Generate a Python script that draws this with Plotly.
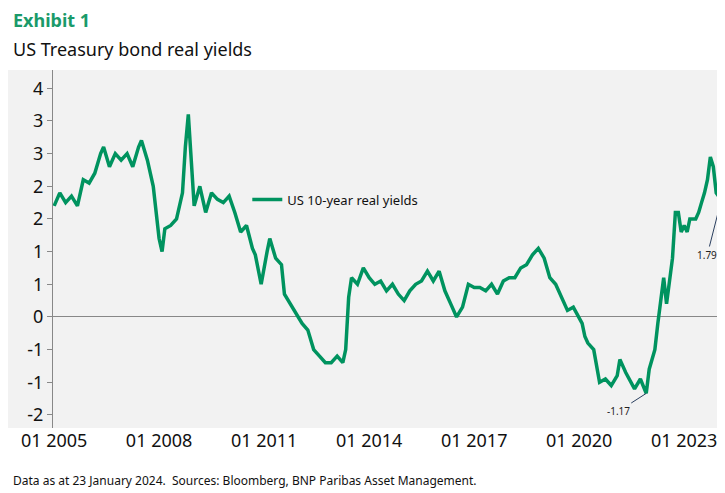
import plotly.graph_objects as go

dates = ["2005-01","2005-03","2005-05","2005-07","2005-09","2005-11","2006-01","2006-03","2006-05","2006-06","2006-08","2006-10","2006-12",
"2007-02","2007-04","2007-06","2007-07","2007-09","2007-11","2008-01","2008-02","2008-03","2008-05","2008-07","2008-09","2008-10","2008-11","2008-12",
"2009-01","2009-03","2009-05","2009-07","2009-09","2009-11","2010-01","2010-03","2010-05","2010-07","2010-09","2010-10","2010-12",
"2011-02","2011-03","2011-05","2011-07","2011-08","2011-10","2011-12","2012-02","2012-04","2012-06","2012-08","2012-10","2012-12",
"2013-02","2013-04","2013-05","2013-06","2013-07","2013-09","2013-11","2014-01","2014-03","2014-05","2014-07","2014-09","2014-11",
"2015-01","2015-03","2015-05","2015-07","2015-09","2015-11","2016-01","2016-03","2016-05","2016-07","2016-09","2016-11","2017-01",
"2017-03","2017-05","2017-07","2017-09","2017-11","2018-01","2018-03","2018-05","2018-07","2018-09","2018-11","2019-01","2019-03",
"2019-05","2019-07","2019-09","2019-11","2020-01","2020-02","2020-03","2020-04","2020-06","2020-08","2020-10","2020-12",
"2021-02","2021-03","2021-05","2021-07","2021-08","2021-10","2021-12","2022-01","2022-03","2022-04","2022-05","2022-06","2022-07",
"2022-08","2022-09","2022-10","2022-11","2022-12","2023-01","2023-02","2023-03","2023-05","2023-06","2023-07","2023-08","2023-09",
"2023-10","2023-11","2023-12","2024-01-23"]
values = [1.7,1.9,1.75,1.85,1.7,2.1,2.05,2.2,2.5,2.6,2.3,2.5,2.4,
2.5,2.3,2.6,2.7,2.4,2.0,1.2,1.0,1.35,1.4,1.5,1.9,2.6,3.1,2.4,
1.7,2.0,1.6,1.9,1.8,1.75,1.85,1.6,1.3,1.4,1.05,0.95,0.5,
1.0,1.2,0.9,0.8,0.35,0.2,0.05,-0.1,-0.2,-0.5,-0.6,-0.7,-0.7,
-0.6,-0.7,-0.5,0.3,0.6,0.5,0.75,0.6,0.5,0.55,0.4,0.5,0.35,
0.25,0.4,0.5,0.55,0.7,0.55,0.7,0.4,0.2,0.0,0.15,0.5,0.45,
0.45,0.4,0.5,0.35,0.55,0.6,0.6,0.75,0.8,0.95,1.05,0.9,0.6,
0.5,0.3,0.1,0.15,0.0,-0.1,-0.3,-0.4,-0.5,-1.0,-0.95,-1.05,
-0.9,-0.65,-0.85,-1.0,-1.1,-0.95,-1.17,-0.8,-0.5,-0.1,0.2,0.6,0.2,
0.55,0.9,1.6,1.6,1.3,1.4,1.3,1.5,1.5,1.6,1.75,1.9,2.1,
2.45,2.3,1.9,1.79]

ticks = [-1.5,-1,-0.5,0,0.5,1,1.5,2,2.5,3,3.5]
tick_labels = ["-2","-1","-1","0","1","1","2","2","3","3","4"]

green = "#00935f"
fig = go.Figure(go.Scatter(x=dates, y=values, mode="lines", line=dict(color=green, width=3.5),
                           name="US 10-year real yields"))
fig.add_shape(type="rect", xref="paper", yref="paper", x0=-0.07, x1=1.02, y0=0, y1=1,
              fillcolor="#f2f2f2", line_width=0, layer="below")
fig.add_annotation(x="2021-12", y=-1.17, text="-1.17", showarrow=True, ax=-28, ay=18,
                   arrowhead=0, arrowwidth=1, font=dict(size=10, color="#222"))
fig.add_annotation(x="2024-01-23", y=1.79, text="1.79", showarrow=True, ax=-14, ay=55,
                   arrowhead=0, arrowwidth=1, font=dict(size=10, color="#222"))
fig.add_annotation(xref="paper", yref="paper", x=-0.062, y=1.14, xanchor="left", yanchor="middle",
                   text="<b>Exhibit 1</b>", showarrow=False, font=dict(size=18, color="#1a9a6a"))
fig.add_annotation(xref="paper", yref="paper", x=-0.062, y=1.06, xanchor="left", yanchor="middle",
                   text="US Treasury bond real yields", showarrow=False, font=dict(size=18, color="#111"))
fig.add_annotation(xref="paper", yref="paper", x=-0.062, y=-0.148, xanchor="left", yanchor="middle",
                   text="Data as at 23 January 2024.  Sources: Bloomberg, BNP Paribas Asset Management.",
                   showarrow=False, font=dict(size=12, color="#111"))
fig.update_layout(
    width=725, height=493, margin=dict(l=45, r=10, t=62, b=73),
    paper_bgcolor="white", plot_bgcolor="#f2f2f2",
    font=dict(family="Noto Sans", color="#111"),
    showlegend=True,
    legend=dict(x=0.29, y=0.68, bgcolor="rgba(0,0,0,0)", font=dict(size=13)),
    xaxis=dict(type="date", range=["2004-12-20", "2024-02-10"], tick0="2005-01-01", dtick="M36",
               tickformat="%m %Y", showgrid=False, zeroline=False, showline=False,
               tickfont=dict(size=18), ticks=""),
    yaxis=dict(range=[-1.7, 3.78], tickvals=ticks, ticktext=tick_labels, showgrid=False,
               zeroline=True, zerolinecolor="#888", zerolinewidth=1,
               showline=True, linecolor="#888", ticks="outside", ticklen=5, tickcolor="#888",
               tickfont=dict(size=18)),
)
fig.write_html("out.html")
